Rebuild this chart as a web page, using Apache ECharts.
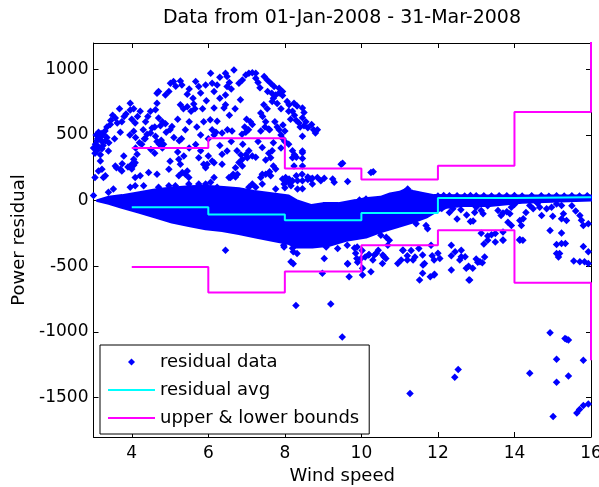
<!DOCTYPE html>
<html><head><meta charset="utf-8">
<script src="https://cdn.jsdelivr.net/npm/echarts@6/dist/echarts.min.js"></script>
<style>html,body{margin:0;padding:0;background:#fff}#c{width:599px;height:487px}</style>
</head><body><div id="c"></div>
<script>
const titleText = 'Data from 01-Jan-2008 - 31-Mar-2008';
const xTicks = [4, 6, 8, 10, 12, 14, 16];
const yTicks = [-1500, -1000, -500, 0, 500, 1000];
const binEdges = [4, 6, 8, 10, 12, 14, 16];
const avgValues = [-50, -105, -150, -95, 20, 25, 25];
const upperValues = [400, 475, 245, 160, 265, 675, 1300];
const lowerValues = [-505, -700, -540, -340, -225, -625, -1215];

// dense band of residual points (outline)
const bandUpper = [[3.1,0],[3.4,25],[3.75,38],[4.2,60],[4.6,80],[5.0,95],[5.5,105],[5.9,110],[6.4,100],[6.8,90],[7.2,70],[7.7,50],[8.1,35],[8.3,0],[8.7,-38],[9.0,-23],[9.4,-23],[9.85,0],[10.1,15],[10.5,25],[10.75,50],[11.0,63],[11.17,85],[11.35,70],[11.6,55],[11.9,38],[13.1,35],[16.0,35]];
const bandLower = [[16.0,5],[14.2,-13],[13.35,-38],[12.65,-38],[12.22,-51],[11.91,-88],[11.69,-126],[11.34,-164],[10.91,-202],[10.47,-239],[10.12,-277],[9.6,-302],[9.16,-340],[8.72,-353],[8.29,-353],[8.11,-327],[7.67,-302],[7.24,-277],[6.8,-251],[6.36,-227],[5.93,-214],[5.49,-189],[5.05,-164],[4.62,-126],[4.18,-88],[3.74,-51],[3.4,-20]];

const upperCloud = [[3.0,400],[3.04,360],[3.05,430],[3.09,455],[3.09,380],[3.13,410],[3.13,520],[3.15,490],[3.18,480],[3.18,350],[3.22,450],[3.22,395],[3.26,505],[3.3,530],[3.31,455],[3.35,480],[3.07,500],[3.2,510],[3.11,470],[3.25,420],
[3.39,377],[3.44,579],[3.57,629],[3.74,600],[3.8,640],[3.85,660],[3.96,690],[4.09,590],[4.15,640],[4.22,680],[4.05,528],[3.95,500],[4.1,480],[4.36,600],[4.42,640],[4.49,680],[4.26,430],[4.33,470],[4.4,505],[4.66,742],[4.62,692],[4.70,629],[4.88,805],[4.97,830],[5.01,893],[5.27,911],[5.31,881],[5.45,810],[4.66,818],[4.75,570],[4.8,600],[4.88,585],[4.49,515],[4.53,553],[4.62,490],[4.66,450],[4.72,430],[4.77,460],[5.27,730],[5.35,700],[5.45,715],[5.55,680],[5.65,700],[5.62,735],[5.24,455],[5.3,470],[5.0,540],[5.05,565],
[5.67,906],[5.75,868],[5.93,881],[6.06,969],[6.10,893],[6.15,830],[6.23,881],[6.45,969],[6.49,944],[6.67,994],[6.49,868],[6.45,805],[6.80,893],[6.89,919],[6.98,956],[7.06,969],[7.15,974],[7.24,969],[7.24,931],[7.46,944],[7.54,919],[7.63,893],[7.72,868],[7.85,856],[7.94,830],[7.66,818],[7.67,755],[7.37,667],[7.45,730],[7.54,700],[6.84,768],[6.41,705],[6.45,730],[6.15,705],[5.88,600],[6.05,615],[6.23,605],[6.1,540],[6.15,500],[6.2,520],[6.36,515],[6.5,540],[6.62,530],[6.88,505],[6.95,560],[7.0,620],[7.1,600],[7.15,580],[7.05,540],[6.98,520],[7.37,530],[7.42,640],[7.5,600],[7.48,560],[7.58,545],[7.6,540],[7.74,600],[7.8,560],[7.85,540],[7.95,575],[8.0,530],
[6.75,380],[6.85,350],[6.98,350],[7.06,380],[7.15,340],[7.24,330],[7.41,405],[7.58,360],[7.5,310],[7.67,380],
[7.76,805],[7.85,820],[7.94,800],[8.06,755],[8.11,730],[8.24,742],[8.32,720],[8.46,705],[8.5,670],[8.46,630],[8.2,680],[8.25,650],[8.3,610],[8.37,590],[8.5,570],[8.6,555],[8.7,580],[8.75,540],[8.85,540],[8.8,515],[8.46,490],[7.9,500],[7.95,470],[8.0,450],[8.1,430],[8.46,377],[8.2,380],[8.25,350],[8.3,330],[8.46,320],[9.47,277],[9.51,285],[10.31,219],
[3.35,560],[3.45,610],[3.5,650],[3.62,590],[3.68,700],[3.96,742],[4.05,700],[4.7,830],[5.09,906],[5.15,870],
[5.5,850],[5.6,780],[5.8,820],[5.95,760],[5.85,700],[6.3,940],[6.55,900],[6.6,850],[6.3,780],[6.7,700],[6.55,650],
[7.3,900],[7.35,860],[7.55,830],[7.7,780],[7.8,740],[7.9,700],[8.1,680],[8.15,620],[8.4,560],[8.55,600],
[5.2,620],[5.5,600],[5.7,560],[5.8,500],[6.0,470],[5.4,540],[5.1,480],[4.9,520],[4.6,560],[4.3,540],[4.0,620],[3.7,520],[3.55,470],[3.4,440],
[5.0,300],[5.2,370],[5.5,400],[5.8,380],[6.0,340],[6.3,420],[6.6,450],[6.9,430],[7.3,450],[7.7,440],[7.9,400]];

const midPoints = [[3.04,176],[3.0,38],[3.18,302],[3.22,239],[3.31,189],[3.39,63],[3.52,88],[3.57,264],[3.70,239],[3.74,226],[3.79,340],[4.0,277],[4.05,315],[4.09,289],[4.14,352],[3.96,101],[4.09,113],[4.31,113],[4.44,214],[4.66,201],[4.70,101],[4.97,239],[4.97,113],[5.14,113],[5.27,277],[5.45,226],[5.49,126],[5.75,327],[5.88,277],[6.15,289],[6.36,277],[6.54,176],[6.63,189],[6.76,201],[6.89,264],[7.02,327],[7.06,101],[7.24,101],[7.41,201],[7.41,126],[7.63,327],[7.63,189],[7.76,88],[7.94,164],[8.02,139],[5.49,176],[5.75,126],[5.93,126],[6.06,139],[6.23,101],
[3.13,226],[3.26,176],[3.6,250],[3.75,280],[3.9,255],[4.0,240],[4.05,270],[4.1,400],[4.2,440],[4.35,470],[4.5,390],[4.6,360],[4.8,400],[4.83,430],[4.09,176],[4.22,189],[5.23,190],[5.32,214],[5.40,200],[5.23,315],[5.36,340],[5.67,428],[5.93,250],[5.97,277],[6.10,302],[6.15,176],[6.36,352],[6.49,378],[6.71,250],[6.8,290],[6.89,315],[6.58,176],[6.65,201],[6.71,180],[7.37,176],[7.5,200],[7.6,220],[7.7,264],[7.76,240],[7.15,126],[7.98,126],[8.1,140],[8.2,151],[8.11,164],[8.3,190],[8.45,201],[8.6,180],[8.72,170],[8.33,88],
[8.2,327],[8.46,365],[8.24,264],[8.46,264],[10.25,214],[8.02,176],[8.16,139],[8.46,151],[8.68,164],[8.72,126],[8.94,151],[9.25,164],[9.29,139],[9.64,145],[8.46,90],[11.21,88],[9.95,5],[10.12,13],[8.33,151],[8.6,160],[8.85,176],[9.03,170],[8.0,98],[8.16,113]];

const lowerPoints = [[6.45,-378],
[7.98,-353],[8.2,-362],[8.16,-466],[9.03,-440],[9.64,-478],[9.82,-360],[9.85,-400],[9.88,-440],[9.9,-470],[10.02,-380],[10.1,-430],[10.2,-410],[10.3,-453],[10.39,-400],[10.03,-516],[10.56,-415],[10.51,-264],[10.65,-280],[10.73,-302],[11.04,-453],[11.08,-378],[11.2,-420],[11.3,-380],[11.4,-430],[11.35,-453],[11.69,-189],[11.73,-214],[11.82,-340],[11.85,-420],[11.9,-453],[12.05,-440],[12.0,-400],[11.61,-491],[11.43,-176],[12.35,-340],[12.35,-420],[12.45,-390],[12.61,-428],[12.35,-529],[12.57,-453],[12.8,-500],[13.04,-470],[12.39,-63],[12.5,-140],[12.85,-160],[12.96,-90],[8.98,-553],[9.68,-579],[10.03,-566],
[9.64,-483],[10.25,-541],[10.34,-415],[10.55,-478],[10.64,-440],[11.52,-604],[11.65,-478],[11.8,-579],[11.91,-560],[12.74,-516],[12.83,-604],[13.0,-445],[13.1,-466],[13.22,-430],[13.2,-330],[13.70,-302],[14.14,-302],[15.1,-335],[15.15,-430],[15.55,-460],[15.8,-350],[15.93,-478],
[9.2,-787],[8.29,-798],[9.5,-1038],[11.27,-1468],[12.44,-1346],[12.53,-1286],[14.40,-1314],[14.93,-1007],[15.32,-1050],[15.36,-1056],[15.41,-1062],[15.10,-1208],[15.80,-1215],[15.10,-1384],[15.41,-1336],[15.01,-1644],[15.63,-1618],[15.7,-1590],[15.8,-1560],[15.93,-1548],
[7.97,-340],[8.27,-327],[8.22,-390],[8.32,-403],[8.22,-481],[8.58,-327],[9.08,-353],[9.38,-365],[9.63,-340],[9.89,-353],[9.99,-440],[10.19,-415],[10.44,-378],[10.59,-428],[10.69,-340],[11.09,-378],[11.5,-365],[11.6,-415],[11.2,-453],[10.95,-478],[11.6,-553],[11.9,-566],[12.61,-378],[12.71,-428],[12.91,-516],[13.16,-473],[12.81,-604],[13.3,-302],[13.5,-315],[14.22,-302]];

const rightPoints = [[12.92,-156],[13.13,-76],[13.18,-100],[13.57,-76],[13.65,-113],[13.7,-95],[13.8,-85],[13.88,-100],[13.83,-164],[13.92,-189],[14.14,-151],[14.23,-138],[14.18,-189],[14.14,-297],[13.92,-51],[14.40,-38],[14.49,-63],[14.66,-51],[14.71,-113],[14.84,-63],[14.97,-51],[15.10,-25],[15.23,-38],[15.28,-100],[15.23,-138],[15.36,-151],[14.93,-227],[15.23,-247],[15.10,-402],[15.71,-113],[15.75,-150],[15.80,-189],[15.93,25],[15.93,-176],[15.93,-390],[15.71,-466],[15.23,-327],[13.13,-249],[13.3,-270],[13.4,-260],[13.5,-250],[13.7,-240],[13.7,-300],[15.18,-403],[15.33,-327],[15.83,-466],
[12.1,-60],[12.3,-90],[12.6,-70],[12.75,-110],[13.0,-50],[13.3,-40],[14.0,-30],[14.6,-20],[15.5,-40],[15.6,-80],[15.0,-120],[14.3,-90],
[12.0,35],[12.15,38],[12.3,36],[12.5,37],[12.7,35],[12.85,38],[13.0,36],[13.2,37],[13.4,35],[13.6,37],[13.8,36],[14.0,38],[14.2,35],[14.45,37],[14.7,36],[14.9,34],[15.1,36],[15.3,35],[15.5,37],[15.7,35],[15.9,36]];

const FONT = 'DejaVu Sans';
// staircase: each bin value held from its left edge to the next edge
function stairs(edges, vals){
  const out = [];
  for (let i = 0; i < edges.length - 1; i++) {
    out.push([edges[i], vals[i]]);
    out.push([edges[i+1], vals[i]]);
  }
  out.push([edges[edges.length-1], vals[vals.length-1]]);
  return out;
}
const scatterData = upperCloud.concat(midPoints, lowerPoints, rightPoints);
const lineIcon = 'path://M0,0L47,0L47,2.2L0,2.2Z';
const markerIcon = 'path://M0,-1L1,0L0,1L-1,0Z';

const chart = echarts.init(document.getElementById('c'), null, {renderer:'canvas'});
const axisCommon = {
  axisLine:{show:true, onZero:false, lineStyle:{color:'#000', width:1}},
  splitLine:{show:false},
};
chart.setOption({
  animation:false,
  backgroundColor:'#fff',
  title:{text:titleText, left:342, textAlign:'center', top:9, padding:0,
    textStyle:{fontFamily:FONT, fontSize:19, fontWeight:'normal', color:'#000'}},
  grid:{left:93.5, right:8, top:43, bottom:50, outerBoundsMode:'none', containLabel:false},
  legend:{orient:'vertical', left:100, top:345, padding:[8,10,7,8], itemGap:10,
    itemWidth:47, itemHeight:7, backgroundColor:'#fff', borderColor:'#000', borderWidth:1, borderRadius:0,
    selectedMode:false,
    textStyle:{fontFamily:FONT, fontSize:18, color:'#000'},
    data:[{name:'residual data', icon:markerIcon, itemStyle:{color:'#0000ff'}},
      {name:'residual avg', icon:lineIcon, itemStyle:{color:'#00ffff'}},
      {name:'upper & lower bounds', icon:lineIcon, itemStyle:{color:'#ff00ff'}}]},
  xAxis:[
    Object.assign({type:'value', min:3, max:16, position:'bottom', name:'Wind speed', nameLocation:'middle', nameGap:30,
      nameTextStyle:{fontFamily:FONT, fontSize:18, color:'#000'},
      axisTick:{show:true, inside:true, length:5, customValues:xTicks, lineStyle:{color:'#000'}},
      axisLabel:{show:true, customValues:xTicks, margin:8, fontFamily:FONT, fontSize:17, color:'#000',
        formatter:v=>String(v)}}, axisCommon),
    Object.assign({type:'value', min:3, max:16, position:'top',
      axisTick:{show:true, inside:true, length:5, customValues:xTicks, lineStyle:{color:'#000'}},
      axisLabel:{show:false}}, axisCommon)
  ],
  yAxis:[
    Object.assign({type:'value', min:-1800, max:1200, position:'left', name:'Power residual', nameLocation:'middle', nameGap:60,
      nameTextStyle:{fontFamily:FONT, fontSize:18, color:'#000'},
      axisTick:{show:true, inside:true, length:5, customValues:yTicks, lineStyle:{color:'#000'}},
      axisLabel:{show:true, customValues:yTicks, margin:5, fontFamily:FONT, fontSize:17, color:'#000',
        formatter:v=>String(v)}}, axisCommon),
    Object.assign({type:'value', min:-1800, max:1200, position:'right',
      axisTick:{show:true, inside:true, length:5, customValues:yTicks, lineStyle:{color:'#000'}},
      axisLabel:{show:false}}, axisCommon)
  ],
  series:[
    {type:'custom', name:'residual data', silent:true, z:1, clip:true,
      data:[bandUpper[0]],
      renderItem:function(params, api){
        const pts = bandUpper.concat(bandLower).map(p=>api.coord(p));
        return {type:'polygon', shape:{points:pts}, style:{fill:'#0000ff', stroke:'#0000ff', lineWidth:3, lineJoin:'round'}};
      }},
    {type:'scatter', name:'residual data', data:scatterData, symbol:'diamond', symbolSize:7.5, z:2,
      itemStyle:{color:'#0000ff', opacity:1}, silent:true, clip:true},
    {type:'line', name:'residual avg', data:stairs(binEdges, avgValues), showSymbol:false, symbol:'none', z:3,
      lineStyle:{color:'#00ffff', width:2}, itemStyle:{color:'#00ffff'}, silent:true, clip:true},
    {type:'line', name:'upper & lower bounds', data:stairs(binEdges, upperValues), showSymbol:false, symbol:'none', z:4,
      lineStyle:{color:'#ff00ff', width:2}, itemStyle:{color:'#ff00ff'}, silent:true, clip:true},
    {type:'line', name:'upper & lower bounds', data:stairs(binEdges, lowerValues), showSymbol:false, symbol:'none', z:4,
      lineStyle:{color:'#ff00ff', width:2}, itemStyle:{color:'#ff00ff'}, silent:true, clip:true}
  ]
});
</script></body></html>
